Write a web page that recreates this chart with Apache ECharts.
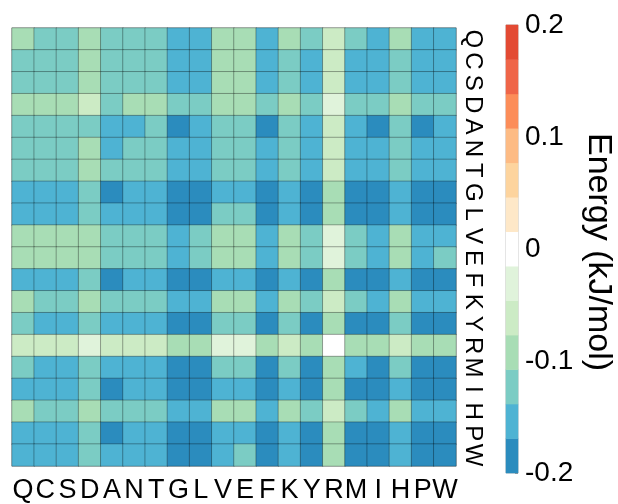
<!DOCTYPE html>
<html>
<head>
<meta charset="utf-8">
<script src="https://cdn.jsdelivr.net/npm/echarts@6/dist/echarts.min.js"></script>
<style>html,body{margin:0;padding:0;background:#fff;}#c{width:618px;height:504px;}</style>
</head>
<body>
<div id="c"></div>
<script>
const residues = ['Q','C','S','D','A','N','T','G','L','V','E','F','K','Y','R','M','I','H','P','W'];

// Energy matrix (kJ/mol), rows follow residues (top to bottom), columns follow residues (left to right)
const rowQ = [-0.09,-0.12,-0.12,-0.09,-0.12,-0.12,-0.12,-0.15,-0.15,-0.09,-0.09,-0.15,-0.09,-0.12,-0.06,-0.12,-0.15,-0.09,-0.15,-0.15];
const rowC = [-0.12,-0.12,-0.12,-0.09,-0.12,-0.12,-0.12,-0.15,-0.15,-0.09,-0.09,-0.15,-0.12,-0.15,-0.06,-0.15,-0.15,-0.12,-0.15,-0.15];
const rowS = [-0.12,-0.12,-0.12,-0.09,-0.12,-0.12,-0.12,-0.15,-0.15,-0.09,-0.09,-0.15,-0.12,-0.15,-0.06,-0.15,-0.15,-0.12,-0.15,-0.15];
const rowD = [-0.09,-0.09,-0.09,-0.06,-0.12,-0.09,-0.09,-0.12,-0.12,-0.09,-0.09,-0.12,-0.09,-0.12,-0.03,-0.12,-0.12,-0.09,-0.12,-0.12];
const rowA = [-0.12,-0.12,-0.12,-0.12,-0.15,-0.15,-0.12,-0.18,-0.15,-0.12,-0.12,-0.18,-0.12,-0.15,-0.06,-0.15,-0.18,-0.12,-0.18,-0.15];
const rowN = [-0.12,-0.12,-0.12,-0.09,-0.15,-0.12,-0.12,-0.15,-0.15,-0.12,-0.12,-0.15,-0.12,-0.15,-0.06,-0.15,-0.15,-0.12,-0.15,-0.15];
const rowT = [-0.12,-0.12,-0.12,-0.09,-0.12,-0.12,-0.12,-0.15,-0.15,-0.12,-0.12,-0.15,-0.12,-0.15,-0.06,-0.15,-0.15,-0.12,-0.15,-0.15];
const rowG = [-0.15,-0.15,-0.15,-0.12,-0.18,-0.15,-0.15,-0.18,-0.18,-0.15,-0.15,-0.18,-0.15,-0.18,-0.09,-0.18,-0.18,-0.15,-0.18,-0.18];
const rowL = [-0.15,-0.15,-0.15,-0.12,-0.15,-0.15,-0.15,-0.18,-0.18,-0.12,-0.12,-0.18,-0.15,-0.18,-0.09,-0.18,-0.18,-0.15,-0.18,-0.18];
const rowV = [-0.09,-0.09,-0.09,-0.09,-0.12,-0.12,-0.12,-0.15,-0.12,-0.09,-0.09,-0.15,-0.09,-0.12,-0.03,-0.12,-0.15,-0.09,-0.15,-0.15];
const rowE = [-0.09,-0.09,-0.09,-0.09,-0.12,-0.12,-0.12,-0.15,-0.12,-0.09,-0.09,-0.15,-0.09,-0.12,-0.03,-0.12,-0.15,-0.09,-0.15,-0.12];
const rowF = [-0.15,-0.15,-0.15,-0.12,-0.18,-0.15,-0.15,-0.18,-0.18,-0.15,-0.15,-0.18,-0.15,-0.18,-0.09,-0.18,-0.18,-0.15,-0.18,-0.18];
const rowK = [-0.09,-0.12,-0.12,-0.09,-0.12,-0.12,-0.12,-0.15,-0.15,-0.09,-0.09,-0.15,-0.09,-0.12,-0.06,-0.12,-0.15,-0.09,-0.15,-0.15];
const rowY = [-0.12,-0.15,-0.15,-0.12,-0.15,-0.15,-0.15,-0.18,-0.18,-0.12,-0.12,-0.18,-0.12,-0.18,-0.09,-0.18,-0.18,-0.12,-0.18,-0.18];
const rowR = [-0.06,-0.06,-0.06,-0.03,-0.06,-0.06,-0.06,-0.09,-0.09,-0.03,-0.03,-0.09,-0.06,-0.09,0.00,-0.09,-0.09,-0.06,-0.09,-0.09];
const rowM = [-0.12,-0.15,-0.15,-0.12,-0.15,-0.15,-0.15,-0.18,-0.18,-0.12,-0.12,-0.18,-0.12,-0.18,-0.09,-0.15,-0.18,-0.12,-0.18,-0.18];
const rowI = [-0.15,-0.15,-0.15,-0.12,-0.18,-0.15,-0.15,-0.18,-0.18,-0.15,-0.15,-0.18,-0.15,-0.18,-0.09,-0.18,-0.18,-0.15,-0.18,-0.18];
const rowH = [-0.09,-0.12,-0.12,-0.09,-0.12,-0.12,-0.12,-0.15,-0.15,-0.09,-0.09,-0.15,-0.09,-0.12,-0.06,-0.12,-0.15,-0.09,-0.15,-0.15];
const rowP = [-0.15,-0.15,-0.15,-0.12,-0.18,-0.15,-0.15,-0.18,-0.18,-0.15,-0.15,-0.18,-0.15,-0.18,-0.09,-0.18,-0.18,-0.15,-0.18,-0.18];
const rowW = [-0.15,-0.15,-0.15,-0.12,-0.15,-0.15,-0.15,-0.18,-0.18,-0.15,-0.12,-0.18,-0.15,-0.18,-0.09,-0.18,-0.18,-0.15,-0.18,-0.18];

const matrix = [rowQ,rowC,rowS,rowD,rowA,rowN,rowT,rowG,rowL,rowV,rowE,rowF,rowK,rowY,rowR,rowM,rowI,rowH,rowP,rowW];

// Colour bar levels (bin centres, bottom to top) and tick labels
const barLevels = [-0.185,-0.154,-0.123,-0.092,-0.062,-0.031,0,0.031,0.062,0.092,0.123,0.154,0.185];
const binEdges = [-0.2,-0.16923,-0.13846,-0.10769,-0.07692,-0.04615,-0.01538,0.01538,0.04615,0.07692,0.10769,0.13846,0.16923,0.2];
const binColors = ['#2b8cbe','#4eb3d3','#7bccc4','#a8ddb5','#ccebc5','#e0f3db','#ffffff','#fee8c8','#fdd49e','#fdbb84','#fc8d59','#ef6548','#e34a33'];
const colorbarTicks = [-0.2,-0.1,0,0.1,0.2];

const heatData = [];
matrix.forEach((row, r) => row.forEach((v, c) => heatData.push([c, r, v])));
const barData = barLevels.map((v, i) => [0, i, v]);

const pieces = binColors.map((col, i) => (
  i === binColors.length - 1
    ? { gte: binEdges[i], lte: binEdges[i + 1], color: col }
    : { gte: binEdges[i], lt: binEdges[i + 1], color: col }
));

const FONT = '"Liberation Sans", Arial, Helvetica, sans-serif';
const chart = echarts.init(document.getElementById('c'), null, { renderer: 'canvas' });
chart.setOption({
  animation: false,
  backgroundColor: '#ffffff',
  grid: [
    { left: 12, top: 28, width: 444, height: 444, show: true, borderColor: '#bbbbbb', borderWidth: 1, backgroundColor: 'transparent' },
    { left: 506, top: 25, width: 12, height: 448, show: true, borderColor: '#bbbbbb', borderWidth: 1, backgroundColor: 'transparent' }
  ],
  xAxis: [
    { type: 'category', gridIndex: 0, data: residues, position: 'bottom',
      axisLine: { show: false }, axisTick: { show: false }, splitLine: { show: false },
      axisLabel: { fontSize: 27, color: '#000', fontFamily: FONT, margin: 11, interval: 0 } },
    { type: 'category', gridIndex: 1, data: ['bar'], show: false }
  ],
  yAxis: [
    { type: 'category', gridIndex: 0, data: residues, inverse: true, position: 'right',
      axisLine: { show: false }, axisTick: { show: false }, splitLine: { show: false },
      axisLabel: { fontSize: 24, color: '#000', fontFamily: FONT, margin: 5, interval: 0,
                   rotate: -90, align: 'center', verticalAlign: 'bottom' } },
    { type: 'category', gridIndex: 1, data: barLevels.map(String), show: false },
    { type: 'value', gridIndex: 1, min: colorbarTicks[0], max: colorbarTicks[colorbarTicks.length - 1], interval: 0.1,
      position: 'right',
      axisLine: { show: false }, splitLine: { show: false },
      axisTick: { show: true, inside: true, length: 3, lineStyle: { color: '#999' } },
      axisLabel: { fontSize: 28, color: '#000', fontFamily: FONT, margin: 7 } }
  ],
  visualMap: {
    type: 'piecewise', show: false, dimension: 2, seriesIndex: [0, 1], pieces: pieces
  },
  graphic: [
    { type: 'text', left: 581, top: 'middle', rotation: -Math.PI / 2,
      style: { text: 'Energy (kJ/mol)', font: '34px ' + FONT, fill: '#000' } }
  ],
  series: [
    { type: 'heatmap', xAxisIndex: 0, yAxisIndex: 0, data: heatData,
      itemStyle: { borderColor: 'rgba(0,0,0,0.3)', borderWidth: 1 }, emphasis: { disabled: true } },
    { type: 'heatmap', xAxisIndex: 1, yAxisIndex: 1, data: barData, emphasis: { disabled: true } }
  ]
});
</script>
</body>
</html>
